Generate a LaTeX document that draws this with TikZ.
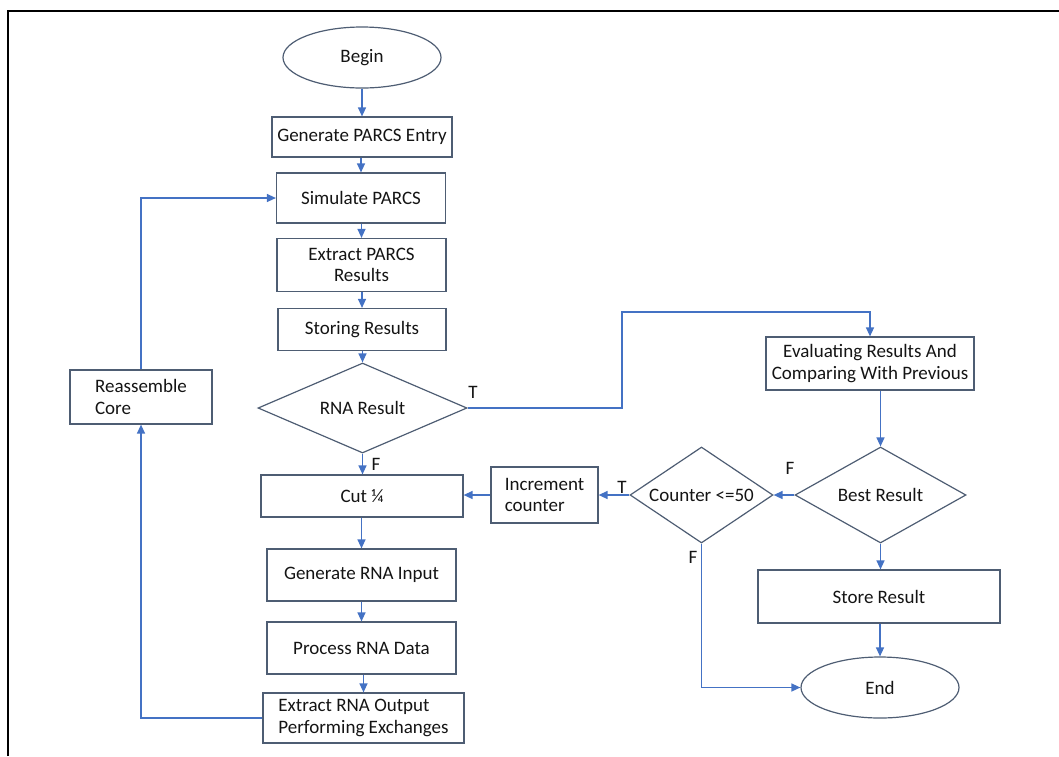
\documentclass[tikz,border=0pt]{standalone}
\usepackage{fontspec}
\setmainfont{Carlito}
\usetikzlibrary{arrows.meta,positioning,calc,shapes.geometric}
\definecolor{boxline}{HTML}{4E5D73}
\definecolor{flowblue}{HTML}{4472C4}
\definecolor{ink}{HTML}{141414}
\tikzset{
  proc/.style={draw=boxline, line width=1.2pt, align=center, text=ink, inner sep=2pt},
  term/.style={ellipse, draw=boxline, line width=1.2pt, text=ink, inner sep=1pt},
  test/.style={diamond, draw=boxline, line width=1.2pt, text=ink, inner sep=0pt, aspect=1.7},
  lbl/.style={text=ink, inner sep=0pt},
  arrow/.style={-{Triangle[length=9pt,width=8pt]}, draw=flowblue, line width=1.3pt},
}

\begin{document}
\begin{tikzpicture}[x=1pt,y=-1pt,font=\fontsize{19}{21.5}\selectfont]
  \useasboundingbox (0,0) rectangle (1059,756);
  \draw[black, line width=1.4pt] (8,756) -- (8,11) -- (1059,11);

  % main column
  \node[term, minimum width=158, minimum height=61] (begin) at (362,57.5) {Begin};
  \node[proc, minimum width=180, minimum height=40] (gen) at (362,137) {Generate PARCS Entry};
  \node[proc, minimum width=169, minimum height=50] (sim) at (361,198) {Simulate PARCS};
  \node[proc, minimum width=169, minimum height=53] (extp) at (361.5,265) {Extract PARCS\\Results};
  \node[proc, minimum width=168, minimum height=42] (stor) at (362,329.5) {Storing Results};
  \node[test, minimum width=209, minimum height=90] (rna) at (362.5,408) {RNA Result};
  \node[proc, minimum width=202, minimum height=42] (cut) at (362,496) {Cut ¼};
  \node[proc, minimum width=189, minimum height=52] (genrna) at (361.5,575) {Generate RNA Input};
  \node[proc, minimum width=189, minimum height=52] (procrna) at (361.5,648) {Process RNA Data};
  \node[proc, minimum width=201, minimum height=50, align=left] (extrna) at (363.5,718) {Extract RNA Output\\Performing Exchanges};
  \node[proc, minimum width=142, minimum height=54, align=left] (reasm) at (141,397) {Reassemble\\Core};

  % right side
  \node[proc, minimum width=208, minimum height=53] (eval) at (870,363.5) {Evaluating Results And\\Comparing With Previous};
  \node[test, minimum width=171, minimum height=96] (best) at (880.5,495) {Best Result};
  \node[test, minimum width=143, minimum height=96] (cnt) at (701.5,495) {Counter <=50};
  \node[proc, minimum width=107, minimum height=56, align=left] (incr) at (544.5,495) {Increment\\counter};
  \node[proc, minimum width=242, minimum height=53] (storeres) at (879,596.5) {Store Result};
  \node[term, minimum width=158, minimum height=61] (end) at (880,687.5) {End};
  \coordinate (tjog) at (622,312);

  \node[lbl] (tmain) at (473,392) {T};
  \node[lbl] (fmain) at (376,464) {F};
  \node[lbl] (fbest) at (790,468) {F};
  \node[lbl] (tcnt) at (622,487) {T};
  \node[lbl] (fcnt) at (693,557) {F};

  \draw[arrow] (begin.south) -- (begin.south |- gen.north);
  \draw[arrow] (gen.south -| sim.north) -- (sim.north);
  \draw[arrow] (sim.south -| extp.north) -- (extp.north);
  \draw[arrow] (extp.south -| stor.north) -- (stor.north);
  \draw[arrow] (stor.south -| rna.north) -- (rna.north);
  \draw[arrow] (rna.south) -- (rna.south |- cut.north);
  \draw[arrow] (cut.south -| genrna.north) -- (genrna.north);
  \draw[arrow] (genrna.south) -- (procrna.north);
  \draw[arrow] (procrna.south -| extrna.north) -- (extrna.north);
  \draw[arrow] (extrna.west) -| (reasm.south);
  \draw[arrow] (reasm.north) |- (sim.west);

  \draw[arrow] (rna.east) -| (tjog) -| (eval.north);
  \draw[arrow] (best.north |- eval.south) -- (best.north);
  \draw[arrow] (best.west) -- (cnt.east);
  \draw[arrow] (cnt.west) -- (incr.east);
  \draw[arrow] (incr.west) -- (incr.west -| cut.east);
  \draw[arrow] (cnt.south) |- (end.west);
  \draw[arrow] (best.south) -- (best.south |- storeres.north);
  \draw[arrow] (storeres.south -| end.north) -- (end.north);
\end{tikzpicture}
\end{document}
